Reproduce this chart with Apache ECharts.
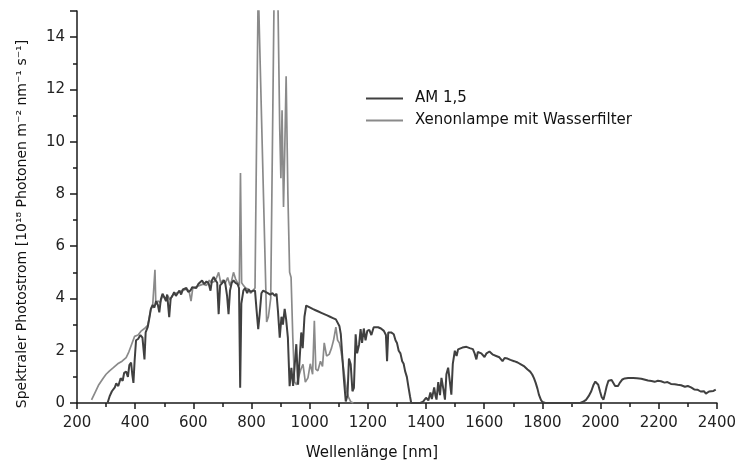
<!DOCTYPE html>
<html>
<head>
<meta charset="utf-8">
<script src="https://cdn.jsdelivr.net/npm/echarts@6/dist/echarts.min.js"></script>
<style>
html,body{margin:0;padding:0;background:#fff;}
#chart{width:739px;height:466px;}
</style>
</head>
<body>
<div id="chart"></div>
<script>
// ---- Data ----
const seriesNames = ["AM 1,5", "Xenonlampe mit Wasserfilter"];

const amWavelength = [305,312,320,330,335,342,350,357,362,369,375,380,386,390,394,398,403,410,418,425,432,436,443,448,454,460,466,472,478,483,488,494,500,506,510,517,522,528,534,540,546,552,558,564,570,576,582,590,596,602,610,617,623,630,637,645,652,659,664,670,676,682,687,692,700,705,710,716,721,726,732,738,745,752,757,761,765,772,778,785,790,797,805,812,817,823,828,834,840,848,856,864,872,880,886,891,897,903,908,914,919,925,931,937,943,948,954,960,966,971,976,982,988,994,1000,1010,1020,1030,1040,1050,1060,1070,1080,1090,1096,1102,1107,1112,1118,1124,1130,1135,1141,1147,1152,1158,1163,1170,1175,1180,1186,1192,1198,1205,1212,1220,1226,1235,1245,1255,1262,1266,1270,1280,1289,1295,1300,1306,1312,1318,1323,1328,1334,1340,1345,1349,1380,1390,1400,1408,1415,1420,1428,1432,1436,1442,1448,1453,1460,1465,1470,1476,1482,1487,1492,1499,1505,1510,1516,1525,1539,1550,1561,1567,1573,1578,1584,1590,1596,1601,1608,1618,1630,1641,1652,1663,1670,1680,1690,1703,1715,1726,1738,1749,1758,1765,1771,1777,1783,1788,1795,1800,1810,1930,1942,1950,1959,1968,1976,1982,1987,1992,1998,2004,2010,2015,2021,2027,2032,2038,2044,2050,2055,2060,2066,2075,2083,2095,2112,2125,2140,2150,2163,2175,2186,2197,2208,2220,2230,2242,2255,2265,2277,2290,2300,2311,2322,2333,2344,2356,2362,2367,2373,2379,2388,2396];
const amValue = [0,0.25,0.45,0.6,0.75,0.65,0.95,0.85,1.15,1.2,1.0,1.45,1.55,1.1,0.77,1.6,2.4,2.45,2.6,2.5,1.67,2.7,2.9,3.2,3.6,3.75,3.65,3.9,3.75,3.47,3.95,4.18,4.05,3.9,4.15,3.28,4.0,4.1,4.24,4.1,4.2,4.3,4.15,4.35,4.3,4.4,4.25,4.3,4.43,4.5,4.4,4.55,4.6,4.69,4.55,4.65,4.6,4.3,4.7,4.82,4.7,4.6,3.4,4.5,4.6,4.7,4.56,4.1,3.4,4.3,4.6,4.69,4.6,4.55,4.4,0.58,3.8,4.3,4.4,4.2,4.35,4.25,4.3,4.3,3.6,2.83,3.4,4.2,4.3,4.25,4.2,4.15,4.2,4.1,4.18,3.5,2.5,3.3,3.0,3.6,3.2,2.5,0.64,1.35,0.65,0.64,2.25,0.7,1.8,2.7,2.1,3.3,3.73,3.73,3.66,3.6,3.55,3.5,3.45,3.4,3.35,3.3,3.25,3.2,3.2,2.95,2.63,1.8,0.85,0.06,0.3,1.7,1.48,0.45,0.58,2.63,1.9,2.25,2.83,2.3,2.85,2.4,2.76,2.8,2.6,2.9,2.92,2.9,2.85,2.76,2.6,1.6,2.7,2.7,2.63,2.4,2.3,2.0,1.9,1.6,1.5,1.22,1.0,0.58,0.25,0,0,0.05,0.2,0.1,0.4,0.15,0.6,0.3,0.13,0.8,0.3,0.96,0.5,0.13,1.1,1.35,0.8,0.32,1.5,2.0,1.8,2.05,2.1,2.12,2.15,2.1,2.06,1.9,1.67,1.95,2.02,1.9,1.95,1.76,1.9,1.97,1.85,1.8,1.75,1.6,1.72,1.7,1.65,1.6,1.55,1.48,1.4,1.28,1.2,1.09,0.95,0.77,0.55,0.32,0.12,0.04,0,0,0.06,0.12,0.26,0.45,0.7,0.82,0.86,0.7,0.45,0.22,0.13,0.35,0.64,0.85,0.9,0.88,0.83,0.65,0.58,0.65,0.77,0.9,0.94,0.96,0.96,0.95,0.93,0.9,0.86,0.84,0.81,0.85,0.83,0.78,0.8,0.73,0.72,0.7,0.68,0.62,0.65,0.6,0.52,0.51,0.44,0.45,0.36,0.39,0.44,0.48,0.46,0.51];

const xeWavelength = [250,262,275,290,300,312,325,340,355,369,378,388,398,410,420,432,443,449,454,460,465,468,471,478,486,494,503,512,520,530,540,552,562,575,585,592,598,610,622,634,645,655,662,672,680,687,694,702,710,718,726,732,738,745,752,758,762,766,772,780,790,797,805,812,823,829,852,858,866,878,890,897,901,905,910,914,919,925,931,936,942,948,955,962,970,977,985,994,1002,1010,1016,1021,1028,1037,1044,1050,1058,1067,1075,1082,1090,1096,1102,1106,1113,1120,1126,1132,1141,1150];
const xeValue = [0.12,0.4,0.7,0.95,1.1,1.23,1.35,1.5,1.6,1.74,1.95,2.25,2.55,2.6,2.75,2.85,2.97,3.3,3.6,3.7,3.75,5.1,3.8,3.9,3.85,4.1,4.0,4.1,3.95,4.15,4.2,4.25,4.3,4.35,4.3,3.9,4.4,4.45,4.5,4.55,4.5,4.7,4.6,4.65,4.8,5.0,4.6,4.7,4.6,4.8,4.5,4.7,5.0,4.75,4.6,4.5,8.8,4.6,4.5,4.4,4.35,4.2,4.3,4.4,16,16,3.1,3.3,4.0,16,16,10.5,8.6,11.2,7.5,9.5,12.5,8.0,5.0,4.8,2.5,0.8,0.7,1.0,1.3,1.48,0.8,0.96,1.5,1.1,3.15,1.3,1.23,1.6,1.4,2.3,1.8,1.86,2.1,2.4,2.9,2.4,2.3,2.1,1.6,1.0,0.5,0.25,0.05,0];

const xTickMin = 200, xTickMax = 2400, xTickStep = 200;
const yTickMin = 0, yTickMax = 15, yTickStep = 2;

// ---- Chart ----
const amData = amWavelength.map((w, i) => [w, amValue[i]]);
const xeData = xeWavelength.map((w, i) => [w, xeValue[i]]);

const FONT = "DejaVu Sans";
const axisColor = "#1a1a1a";
const chart = echarts.init(document.getElementById("chart"), null, {renderer: "canvas"});
chart.setOption({
  animation: false,
  backgroundColor: "#ffffff",
  grid: {left: 77, right: 16, top: 11, bottom: 61, containLabel: false},
  legend: {
    orient: "vertical",
    left: 366,
    top: 91,
    padding: 0,
    itemWidth: 37,
    itemHeight: 2,
    itemGap: 7,
    icon: "rect",
    data: [seriesNames[0], seriesNames[1]],
    textStyle: {fontFamily: FONT, fontSize: 15, color: "#111", lineHeight: 15, padding: [0, 0, 0, 7]}
  },
  xAxis: {
    type: "value",
    min: xTickMin, max: xTickMax, interval: xTickStep,
    name: "Wellenlänge [nm]",
    nameLocation: "middle",
    nameGap: 43,
    nameTextStyle: {fontFamily: FONT, fontSize: 15, color: "#111", padding: [0, 50, 0, 0]},
    axisLine: {show: true, lineStyle: {color: axisColor, width: 1.5}},
    axisTick: {show: true, length: 6, inside: false, lineStyle: {color: axisColor, width: 1.5}},
    minorTick: {show: true, splitNumber: 2, length: 4, lineStyle: {color: axisColor, width: 1.5}},
    axisLabel: {fontFamily: FONT, fontSize: 15, color: "#222", margin: 13,
      formatter: v => String(v)},
    splitLine: {show: false}
  },
  yAxis: {
    type: "value",
    min: yTickMin, max: yTickMax, interval: yTickStep,
    name: "Spektraler Photostrom [10¹⁸ Photonen m⁻² nm⁻¹ s⁻¹]",
    nameLocation: "middle",
    nameGap: 48,
    nameTextStyle: {fontFamily: FONT, fontSize: 14, color: "#111", padding: [0, 34, 0, 0]},
    axisLine: {show: true, lineStyle: {color: axisColor, width: 1.5}},
    axisTick: {show: true, length: 7, inside: false, lineStyle: {color: axisColor, width: 1.5}},
    minorTick: {show: true, splitNumber: 2, length: 4, lineStyle: {color: axisColor, width: 1.5}},
    axisLabel: {fontFamily: FONT, fontSize: 15, color: "#222", margin: 12,
      formatter: v => (v > 14 ? "" : String(v))},
    splitLine: {show: false}
  },
  series: [
    {
      name: seriesNames[1], type: "line", data: xeData, showSymbol: false, symbol: "none",
      clip: true, z: 2,
      lineStyle: {color: "#8a8a8a", width: 1.7},
      itemStyle: {color: "#8a8a8a"}
    },
    {
      name: seriesNames[0], type: "line", data: amData, showSymbol: false, symbol: "none",
      clip: true, z: 3,
      lineStyle: {color: "#404040", width: 2},
      itemStyle: {color: "#404040"}
    }
  ]
});
</script>
</body>
</html>
